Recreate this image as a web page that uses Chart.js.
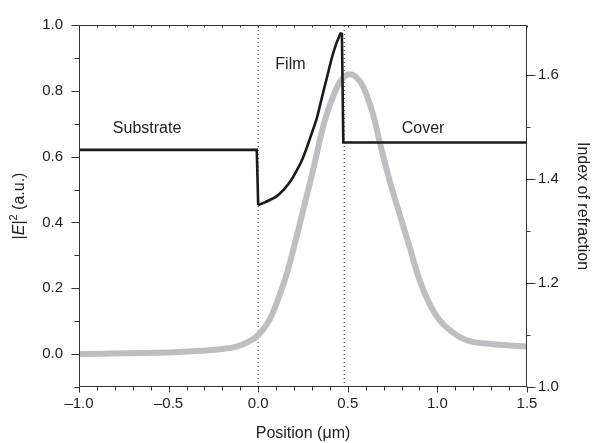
<!DOCTYPE html>
<html>
<head>
<meta charset="utf-8">
<title>Mode profile and index of refraction</title>
<script src="https://cdn.jsdelivr.net/npm/chart.js@4.4.1/dist/chart.umd.min.js"></script>
<style>
  html, body { margin: 0; padding: 0; background: #fff; }
  #wrap { width: 592px; height: 443px; }
</style>
</head>
<body>
<div id="wrap"><canvas id="profileChart" width="592" height="443"></canvas></div>
<script>
// axis ranges
const xMin = -1.0, xMax = 1.5;      // position (um)
const yMin = -0.1, yMax = 1.0;      // |E|^2 (a.u.)
const nMin = 1.0, nMax = 1.696;     // index of refraction

// |E|^2 of the guided mode (grey curve)
const fieldX  = [-1.0, -0.5, -0.32, -0.21, -0.12, -0.045, 0.0, 0.048, 0.085, 0.123, 0.16, 0.197, 0.234, 0.268, 0.309, 0.346, 0.383, 0.439, 0.475, 0.51, 0.55, 0.588, 0.64, 0.68, 0.737, 0.792, 0.848, 0.904, 0.978, 1.053, 1.165, 1.313, 1.5];
const fieldE2 = [0.0, 0.005, 0.010, 0.015, 0.023, 0.040, 0.058, 0.09, 0.13, 0.185, 0.245, 0.32, 0.40, 0.475, 0.565, 0.655, 0.73, 0.81, 0.84, 0.85, 0.84, 0.81, 0.73, 0.64, 0.52, 0.42, 0.32, 0.22, 0.13, 0.08, 0.042, 0.03, 0.023];

// index profile (black): substrate, graded film, cover
const substrateX = [-1.0, -0.008, 0.0];
const substrateN = [1.456, 1.456, 1.350];
const filmX = [0.0, 0.030, 0.067, 0.104, 0.141, 0.179, 0.216, 0.244, 0.272, 0.300, 0.328, 0.355, 0.383, 0.420, 0.458, 0.467];
const filmN = [1.350, 1.354, 1.360, 1.367, 1.379, 1.395, 1.417, 1.436, 1.461, 1.489, 1.518, 1.556, 1.594, 1.644, 1.679, 1.681];
const coverX = [0.467, 0.475, 1.5];
const coverN = [1.681, 1.470, 1.470];

// interfaces (dotted lines)
const interfaceX = [0.0, 0.48];

// region labels
const regionNames = ['Substrate', 'Film', 'Cover'];
const regionX = [-0.62, 0.18, 0.92];
const regionY = [0.684, 0.879, 0.684];

const FONT = "'Liberation Sans', Arial, Helvetica, sans-serif";
const TEXT = '#222';

function toPoints(xs, ys) {
    return xs.map((x, i) => ({ x: x, y: ys[i] }));
}

function fmt(v) {
    return v.toFixed(1).replace('-', '\u2013');
}

function isStep(v, step) {
    const r = v / step;
    return Math.abs(r - Math.round(r)) < 1e-6;
}

// frame and tick marks (major/minor lengths differ)
const frameTicks = {
    id: 'frameTicks',
    afterDatasetsDraw(chart) {
        const { ctx, chartArea: a, scales } = chart;
        const L = a.left + 0.5, R = a.right - 0.5, T = a.top + 0.5, B = a.bottom - 0.5;
        ctx.save();
        ctx.strokeStyle = '#333';
        ctx.lineWidth = 1;
        ctx.beginPath();
        ctx.rect(L, T, R - L, B - T);
        scales.x.ticks.forEach(t => {
            const px = Math.round(scales.x.getPixelForValue(t.value)) + 0.5;
            const len = t.label !== '' ? 6 : 4;
            ctx.moveTo(px, B); ctx.lineTo(px, B + len);
            ctx.moveTo(px, T); ctx.lineTo(px, T + 2);
        });
        scales.y.ticks.forEach(t => {
            const py = Math.round(scales.y.getPixelForValue(t.value)) + 0.5;
            const len = t.label !== '' ? 8 : 5;
            ctx.moveTo(L, py); ctx.lineTo(L - len, py);
        });
        scales.y2.ticks.forEach(t => {
            const py = Math.round(scales.y2.getPixelForValue(t.value)) + 0.5;
            const len = t.label !== '' ? 9 : 4;
            ctx.moveTo(R, py); ctx.lineTo(R + len, py);
        });
        ctx.stroke();
        ctx.restore();
    }
};

// region names and the left axis title with italic E and superscript
const textLayer = {
    id: 'textLayer',
    afterDraw(chart) {
        const { ctx, chartArea: a, scales } = chart;
        ctx.save();
        ctx.fillStyle = TEXT;
        ctx.font = '16px ' + FONT;
        ctx.textAlign = 'center';
        ctx.textBaseline = 'middle';
        regionNames.forEach((name, i) => {
            ctx.fillText(name, scales.x.getPixelForValue(regionX[i]), scales.y.getPixelForValue(regionY[i]));
        });

        const parts = [
            { t: '|', font: '16px ' + FONT, dy: 0 },
            { t: 'E', font: 'italic 16px ' + FONT, dy: 0 },
            { t: '|', font: '16px ' + FONT, dy: 0 },
            { t: '2', font: '11px ' + FONT, dy: -6 },
            { t: ' (a.u.)', font: '16px ' + FONT, dy: 0 }
        ];
        let total = 0;
        parts.forEach(p => { ctx.font = p.font; p.w = ctx.measureText(p.t).width; total += p.w; });
        ctx.translate(20, (a.top + a.bottom) / 2);
        ctx.rotate(-Math.PI / 2);
        ctx.textAlign = 'left';
        ctx.textBaseline = 'middle';
        let x = -total / 2;
        parts.forEach(p => {
            ctx.font = p.font;
            ctx.fillText(p.t, x, p.dy);
            x += p.w;
        });
        ctx.restore();
    }
};

const datasets = [
    {
        label: 'substrate',
        data: toPoints(substrateX, substrateN),
        yAxisID: 'y2',
        borderColor: '#1a1a1a',
        borderWidth: 2.6,
        pointRadius: 0,
        tension: 0,
        order: 0
    },
    {
        label: 'film',
        data: toPoints(filmX, filmN),
        yAxisID: 'y2',
        borderColor: '#1a1a1a',
        borderWidth: 2.6,
        pointRadius: 0,
        tension: 0.4,
        order: 0
    },
    {
        label: 'cover',
        data: toPoints(coverX, coverN),
        yAxisID: 'y2',
        borderColor: '#1a1a1a',
        borderWidth: 2.6,
        pointRadius: 0,
        tension: 0,
        order: 0
    },
    {
        label: '|E|^2',
        data: toPoints(fieldX, fieldE2),
        yAxisID: 'y',
        borderColor: '#bdbec2',
        borderWidth: 6,
        pointRadius: 0,
        tension: 0.4,
        order: 1
    }
];

interfaceX.forEach(x => {
    datasets.push({
        label: 'interface',
        data: [{ x: x, y: yMin }, { x: x, y: yMax }],
        yAxisID: 'y',
        borderColor: '#444',
        borderWidth: 1,
        borderDash: [1, 3],
        pointRadius: 0,
        order: 2
    });
});

new Chart(document.getElementById('profileChart'), {
    type: 'line',
    data: { datasets: datasets },
    options: {
        responsive: false,
        animation: false,
        layout: { padding: { top: 19, left: 0, right: 0, bottom: 0 } },
        plugins: {
            legend: { display: false },
            tooltip: { enabled: false }
        },
        scales: {
            x: {
                type: 'linear',
                min: xMin,
                max: xMax,
                grid: { display: false, drawTicks: false },
                border: { display: false },
                afterFit(scale) { scale.height = 56; },
                ticks: {
                    stepSize: 0.1,
                    autoSkip: false,
                    maxRotation: 0,
                    padding: 8,
                    color: TEXT,
                    font: { family: FONT, size: 15 },
                    callback: v => isStep(v, 0.5) ? fmt(v) : ''
                },
                title: {
                    display: true,
                    text: 'Position (\u03bcm)',
                    color: TEXT,
                    font: { family: FONT, size: 16 },
                    padding: { top: 0, bottom: 0 }
                }
            },
            y: {
                type: 'linear',
                position: 'left',
                min: yMin,
                max: yMax,
                grid: { display: false, drawTicks: false },
                border: { display: false },
                afterFit(scale) { scale.width = 79; },
                ticks: {
                    stepSize: 0.1,
                    autoSkip: false,
                    padding: 16,
                    color: TEXT,
                    font: { family: FONT, size: 15 },
                    callback: v => (v >= -1e-9 && isStep(v, 0.2)) ? fmt(Math.abs(v) < 1e-9 ? 0 : v) : ''
                }
            },
            y2: {
                type: 'linear',
                position: 'right',
                min: nMin,
                max: nMax,
                grid: { display: false, drawTicks: false },
                border: { display: false },
                afterFit(scale) { scale.width = 65; },
                ticks: {
                    stepSize: 0.1,
                    includeBounds: false,
                    autoSkip: false,
                    padding: 11,
                    color: TEXT,
                    font: { family: FONT, size: 15 },
                    callback: v => isStep(v, 0.2) ? fmt(v) : ''
                },
                title: {
                    display: true,
                    text: 'Index of refraction',
                    color: TEXT,
                    font: { family: FONT, size: 16 },
                    padding: { top: 0, bottom: 0 }
                }
            }
        }
    },
    plugins: [frameTicks, textLayer]
});
</script>
</body>
</html>
